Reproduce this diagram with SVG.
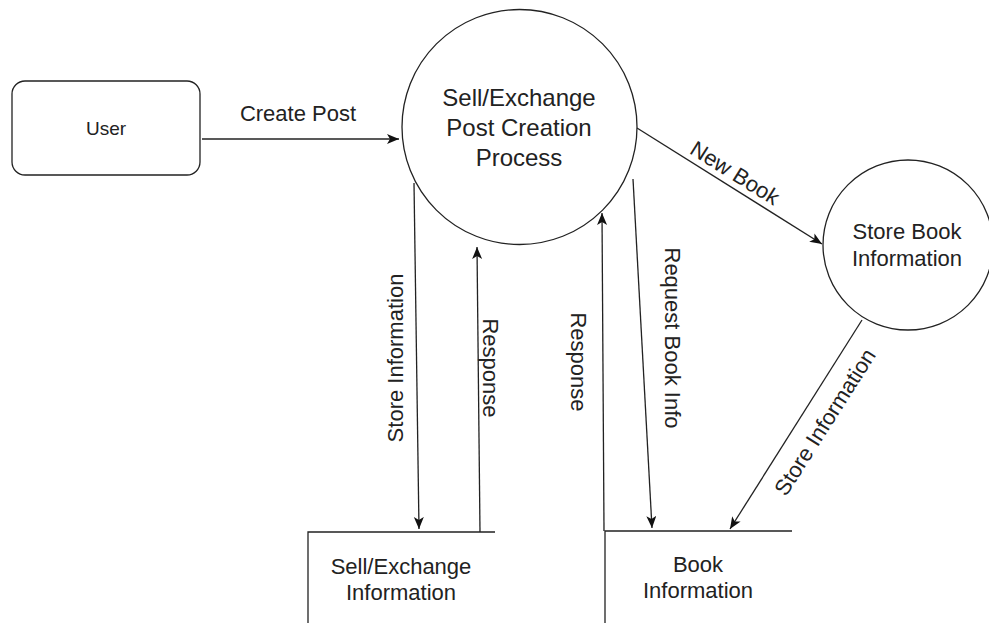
<svg xmlns="http://www.w3.org/2000/svg" width="989" height="623" viewBox="0 0 989 623">
<style>
.shape{fill:#fff;stroke:#222;stroke-width:1.3}
.open{fill:none;stroke:#222;stroke-width:1.3}
.edge{fill:none;stroke:#222;stroke-width:1.3;marker-end:url(#arr)}
text{font-family:"Liberation Sans",Arial,sans-serif;fill:#222;text-anchor:middle}
.t22{font-size:22px}
.t24{font-size:24px}
</style>
<defs>
<marker id="arr" markerUnits="userSpaceOnUse" markerWidth="14" markerHeight="12" refX="12" refY="5" orient="auto" viewBox="0 0 14 12">
<path d="M0,0 L12,5 L0,10 L3,5 Z" fill="#111" stroke="none"/>
</marker>
</defs>
<rect width="989" height="623" fill="#fff"/>
<g id="connectors">
<path class="edge" d="M202,139 H399"/>
<path class="edge" d="M637,128 L822,244"/>
<path class="edge" d="M414,183 L419,529"/>
<path class="edge" d="M480,532 L477,247"/>
<path class="edge" d="M604,531 L602,213"/>
<path class="edge" d="M633,179 L652,528"/>
<path class="edge" d="M862,320 L730,529"/>
<text class="t22" x="298" y="121">Create Post</text>
<text class="t22" transform="translate(735,173) rotate(32)" y="7.5">New Book</text>
<text class="t22" transform="translate(395,358) rotate(-90)" y="7.5">Store Information</text>
<text class="t22" transform="translate(490,368) rotate(90)" y="7.5">Response</text>
<text class="t22" transform="translate(578,362) rotate(90)" y="7.5">Response</text>
<text class="t22" transform="translate(672,338) rotate(90)" y="7.5">Request Book Info</text>
<text class="t22" transform="translate(825,422) rotate(-57.5)" y="7.5">Store Information</text>
</g>
<g id="user">
<rect class="shape" x="12" y="81" width="188" height="94" rx="13" ry="13"/>
<text x="106" y="135" style="font-size:19px">User</text>
</g>
<g id="process">
<circle class="shape" cx="519.5" cy="127" r="117.5"/>
<text class="t24" x="519" y="106">Sell/Exchange</text>
<text class="t24" x="519" y="136">Post Creation</text>
<text class="t24" x="519" y="166">Process</text>
</g>
<g id="store-book">
<circle class="shape" cx="908" cy="245" r="85"/>
<text class="t22" x="907" y="239">Store Book</text>
<text class="t22" x="907" y="266">Information</text>
</g>
<g id="sell-exchange-info">
<path class="open" d="M308,623 V532 H495"/>
<text class="t22" x="401" y="574">Sell/Exchange</text>
<text class="t22" x="401" y="600">Information</text>
</g>
<g id="book-info">
<path class="open" d="M605,623 V531 H792"/>
<text class="t22" x="698" y="572">Book</text>
<text class="t22" x="698" y="598">Information</text>
</g>
</svg>
